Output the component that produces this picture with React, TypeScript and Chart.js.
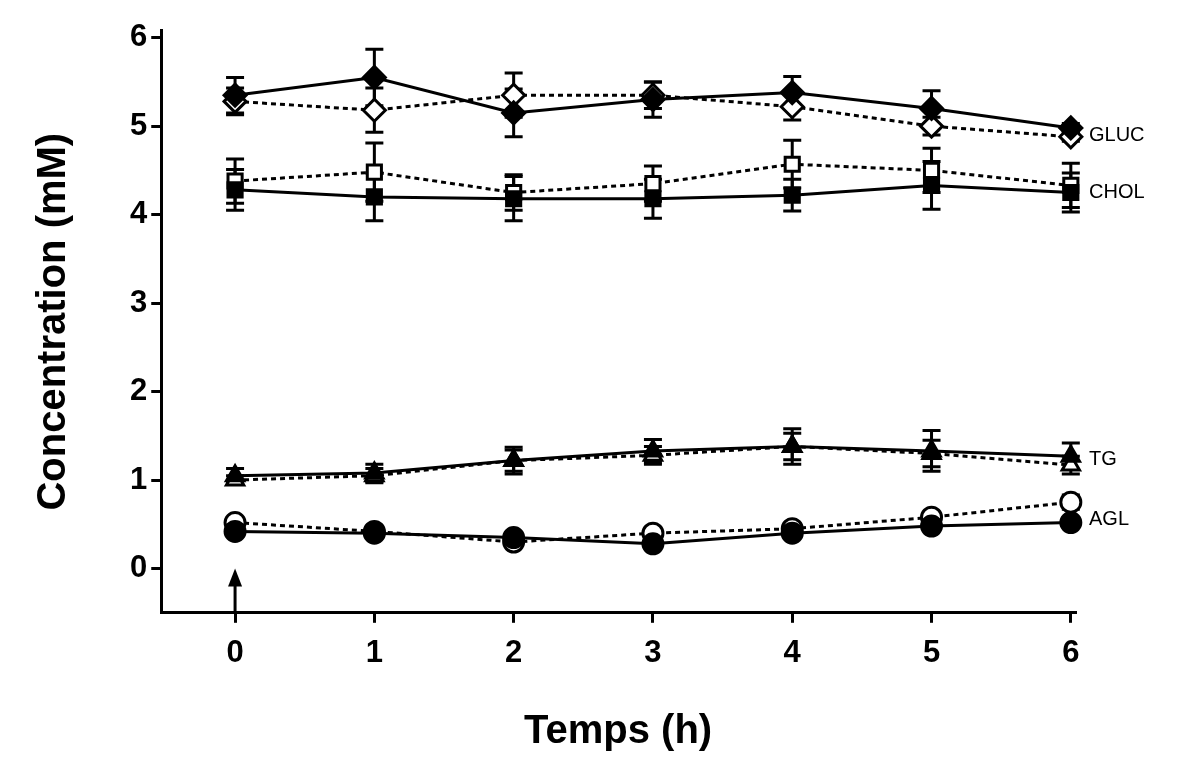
import React, { useEffect, useRef } from "react";
import { Chart, registerables } from "chart.js";
Chart.register(...registerables);

const hours = [0, 1, 2, 3, 4, 5, 6];
const glucA = [5.35, 5.55, 5.15, 5.3, 5.38, 5.2, 4.98];
const glucAErr = [0.2, 0.32, 0.27, 0.2, 0.18, 0.2, 0.05];
const glucB = [5.28, 5.18, 5.35, 5.35, 5.22, 5.0, 4.88];
const glucBErr = [0.15, 0.25, 0.25, 0.15, 0.15, 0.1, 0.05];
const cholA = [4.28, 4.2, 4.18, 4.18, 4.22, 4.33, 4.25];
const cholAErr = [0.23, 0.27, 0.25, 0.22, 0.18, 0.27, 0.22];
const cholB = [4.38, 4.48, 4.25, 4.35, 4.57, 4.5, 4.33];
const cholBErr = [0.25, 0.33, 0.2, 0.2, 0.27, 0.25, 0.25];
const tgA = [1.05, 1.08, 1.22, 1.33, 1.38, 1.33, 1.27];
const tgAErr = [0.08, 0.1, 0.15, 0.13, 0.2, 0.23, 0.15];
const tgB = [1.0, 1.05, 1.22, 1.28, 1.38, 1.3, 1.17];
const tgBErr = [0.05, 0.08, 0.12, 0.1, 0.15, 0.15, 0.1];
const aglA = [0.42, 0.4, 0.35, 0.28, 0.4, 0.48, 0.52];
const aglAErr = [0.03, 0.03, 0.03, 0.03, 0.03, 0.03, 0.03];
const aglB = [0.52, 0.42, 0.3, 0.4, 0.45, 0.58, 0.75];
const aglBErr = [0.03, 0.03, 0.05, 0.03, 0.03, 0.03, 0.08];
const seriesLabels = [
  { text: "GLUC", y: 4.9 },
  { text: "CHOL", y: 4.25 },
  { text: "TG", y: 1.23 },
  { text: "AGL", y: 0.55 },
];

function ds(label: string, vals: number[], err: number[], style: string, filled: boolean, dashed: boolean) {
  return {
    label,
    data: hours.map((h, i) => ({ x: h, y: vals[i] })),
    err,
    borderColor: "#000",
    backgroundColor: filled ? "#000" : "#fff",
    pointBorderColor: "#000",
    pointBackgroundColor: filled ? "#000" : "#fff",
    pointStyle: style,
    pointRadius: style === "rectRot" ? 11 : 10,
    pointBorderWidth: 3,
    borderWidth: 3,
    borderDash: dashed ? [5, 4] : [],
    showLine: true,
    clip: false,
    order: dashed ? 1 : 0,
  };
}

export default function App() {
  const ref = useRef<HTMLCanvasElement>(null);
  useEffect(() => {
    const errPlugin = {
      id: "extras",
      beforeDatasetsDraw(chart: any) {
        const { ctx, scales } = chart;
        const xs = scales.x, ys = scales.y;
        ctx.save();
        ctx.strokeStyle = "#000";
        ctx.lineWidth = 3;
        chart.data.datasets.forEach((d: any) => {
          d.data.forEach((p: any, i: number) => {
            const x = xs.getPixelForValue(p.x);
            const y1 = ys.getPixelForValue(p.y + d.err[i]);
            const y2 = ys.getPixelForValue(p.y - d.err[i]);
            ctx.beginPath();
            ctx.moveTo(x, y1); ctx.lineTo(x, y2);
            ctx.moveTo(x - 9, y1); ctx.lineTo(x + 9, y1);
            ctx.moveTo(x - 9, y2); ctx.lineTo(x + 9, y2);
            ctx.stroke();
          });
        });
        ctx.restore();
      },
      afterDraw(chart: any) {
        const { ctx, scales, chartArea } = chart;
        const xs = scales.x, ys = scales.y;
        ctx.save();
        ctx.fillStyle = "#000";
        ctx.font = "20px 'Liberation Sans', Arial, sans-serif";
        ctx.textBaseline = "middle";
        seriesLabels.forEach((l) => {
          ctx.fillText(l.text, chartArea.right + 14, ys.getPixelForValue(l.y));
        });
        const ax = xs.getPixelForValue(0);
        const yb = chartArea.bottom;
        const yt = ys.getPixelForValue(0);
        ctx.strokeStyle = "#000";
        ctx.lineWidth = 3;
        ctx.beginPath();
        ctx.moveTo(ax, yb); ctx.lineTo(ax, yt + 10); ctx.stroke();
        ctx.beginPath();
        ctx.moveTo(ax, yt); ctx.lineTo(ax - 7, yt + 18); ctx.lineTo(ax + 7, yt + 18); ctx.closePath(); ctx.fill();
        ctx.restore();
      },
    };
    const font = { family: "'Liberation Sans', Arial, sans-serif", weight: "bold" as const };
    const chart = new Chart(ref.current!, {
      type: "scatter",
      data: {
        datasets: [
          ds("GLUC a", glucA, glucAErr, "rectRot", true, false),
          ds("GLUC b", glucB, glucBErr, "rectRot", false, true),
          ds("CHOL a", cholA, cholAErr, "rect", true, false),
          ds("CHOL b", cholB, cholBErr, "rect", false, true),
          ds("TG a", tgA, tgAErr, "triangle", true, false),
          ds("TG b", tgB, tgBErr, "triangle", false, true),
          ds("AGL a", aglA, aglAErr, "circle", true, false),
          ds("AGL b", aglB, aglBErr, "circle", false, true),
        ] as any,
      },
      plugins: [errPlugin],
      options: {
        animation: false,
        responsive: false,
        layout: { padding: { top: 10, right: 116, left: 18, bottom: 2 } },
        plugins: { legend: { display: false }, tooltip: { enabled: false } },
        scales: {
          x: {
            type: "linear",
            min: -0.53,
            max: 6.03,
            afterBuildTicks: (ax: any) => { ax.ticks = hours.map((v) => ({ value: v })); },
            ticks: { color: "#000", font: { ...font, size: 31 }, padding: 12 },
            grid: { display: true, drawOnChartArea: false, drawTicks: true, tickLength: 10, color: "#000", lineWidth: 3 },
            border: { display: true, color: "#000", width: 3 },
            title: { display: true, text: "Temps (h)", color: "#000", font: { ...font, size: 40 }, padding: { top: 24, bottom: 0 } },
          },
          y: {
            min: -0.5,
            max: 6.08,
            afterBuildTicks: (ax: any) => { ax.ticks = [0, 1, 2, 3, 4, 5, 6].map((v) => ({ value: v })); },
            ticks: { color: "#000", font: { ...font, size: 31 }, padding: 4 },
            grid: { display: true, drawOnChartArea: false, drawTicks: true, tickLength: 10, color: "#000", lineWidth: 3 },
            border: { display: true, color: "#000", width: 3 },
            title: { display: true, text: "Concentration (mM)", color: "#000", font: { ...font, size: 40 }, padding: { bottom: 48 } },
          },
        },
      },
    });
    return () => chart.destroy();
  }, []);
  return <canvas ref={ref} width={1183} height={750} />;
}
